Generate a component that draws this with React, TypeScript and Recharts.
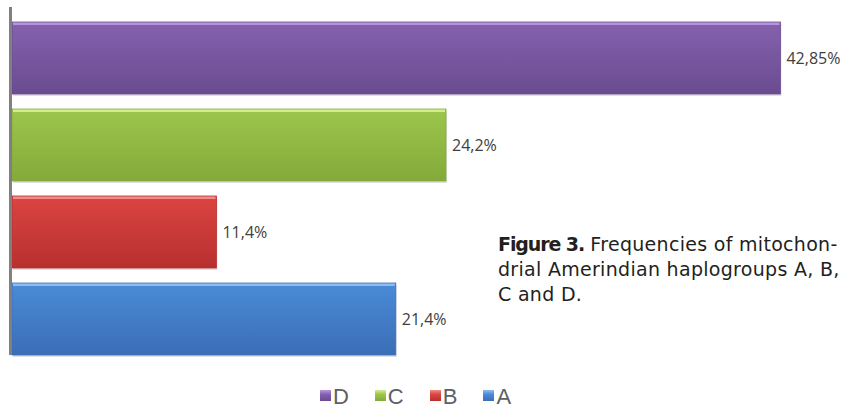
import React from 'react';
import { BarChart, Bar, XAxis, YAxis, Cell, LabelList, Legend } from 'recharts';

// Haplogroups, top to bottom as drawn
const haplogroups = ['D', 'C', 'B', 'A'];
const frequencies = [42.85, 24.2, 11.4, 21.4];
const valueLabels = ['42,85%', '24,2%', '11,4%', '21,4%'];

// Excel 2007 style fills: [highlight, top, bottom]
const COLORS = [
    ['#b596dc', '#8561ad', '#6a4c91'],
    ['#d2ee8a', '#9cc64c', '#84aa3a'],
    ['#f08a86', '#dc4441', '#b8302e'],
    ['#8fbcf0', '#4b8bd8', '#3a6eb5'],
];

const data = haplogroups.map((name, i) => ({ name, valor: frequencies[i], etiqueta: valueLabels[i] }));

const BarShape = (props: any) => {
    const { x, y, width, height, index } = props;
    const c = COLORS[index % COLORS.length];
    return (
        <g>
            <rect x={x + 1} y={y + 2} width={width} height={height} fill="rgba(0,0,0,0.12)" />
            <rect x={x} y={y} width={width} height={height} fill={`url(#grad-${index})`} stroke={c[2]} strokeWidth={0.8} />
            <rect x={x + 1} y={y + 0.5} width={Math.max(width - 2, 0)} height={2.5} fill={c[0]} />
        </g>
    );
};

const renderLegend = () => (
    <div style={{ display: 'flex', justifyContent: 'center', alignItems: 'center', marginTop: '13px', lineHeight: '22px', fontFamily: 'Liberation Sans, Arial, sans-serif', fontSize: '22px', color: '#606060' }}>
        {haplogroups.map((h, i) => (
            <span key={h} style={{ display: 'flex', alignItems: 'center', marginRight: i < haplogroups.length - 1 ? '26px' : 0 }}>
                <span style={{ display: 'inline-block', position: 'relative', top: '-2px', width: '11px', height: '11px', marginRight: '2px', background: `linear-gradient(${COLORS[i][0]}, ${COLORS[i][1]} 40%, ${COLORS[i][2]})` }} />
                {h}
            </span>
        ))}
    </div>
);

export default function App() {
    return (
        <div style={{ position: 'absolute', left: 0, top: 0, width: 843, height: 409, background: '#fff' }}>
            <BarChart
                width={843}
                height={409}
                data={data}
                layout="vertical"
                margin={{ top: 14, right: 24, left: 12, bottom: 11 }}
            >
                <defs>
                    {COLORS.map((c, i) => (
                        <linearGradient key={i} id={`grad-${i}`} x1="0" y1="0" x2="0" y2="1">
                            <stop offset="0%" stopColor={c[1]} />
                            <stop offset="100%" stopColor={c[2]} />
                        </linearGradient>
                    ))}
                </defs>
                <XAxis type="number" domain={[0, 45]} hide />
                <YAxis type="category" dataKey="name" hide />
                <Legend verticalAlign="bottom" content={renderLegend} wrapperStyle={{ bottom: 0, height: 36 }} />
                <Bar dataKey="valor" barSize={72} shape={BarShape} isAnimationActive={false}>
                    {data.map((_, i) => (
                        <Cell key={`cell-${i}`} fill={COLORS[i][1]} />
                    ))}
                    <LabelList
                        dataKey="etiqueta"
                        position="right"
                        offset={6}
                        style={{ fontFamily: 'Open Sans, sans-serif', fontSize: 16, fill: '#404040' }}
                    />
                </Bar>
            </BarChart>
            {/* eje vertical */}
            <div style={{ position: 'absolute', left: 9, top: 7, width: 3, height: 348, background: '#808080' }} />
            {/* leyenda de la figura */}
            <div style={{ position: 'absolute', left: 498, top: 232, width: 345, fontFamily: 'DejaVu Sans, sans-serif', fontSize: '19px', lineHeight: '25px', letterSpacing: '0.3px', color: '#231f20', whiteSpace: 'nowrap' }}>
                <b style={{ letterSpacing: '-1.1px' }}>Figure 3.</b> Frequencies of mitochon-<br />drial Amerindian haplogroups A, B,<br />C and D.
            </div>
        </div>
    );
}
